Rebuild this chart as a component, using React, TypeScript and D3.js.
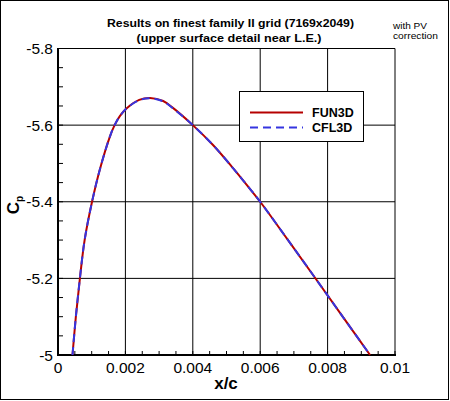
import React from "react";
import * as d3 from "d3";

const xc = [0.00043, 0.00053, 0.00065, 0.00079, 0.00101, 0.00125, 0.00154, 0.00168, 0.00184, 0.00204, 0.00241, 0.00273, 0.00312, 0.00341, 0.004, 0.0046, 0.0052, 0.0056, 0.006, 0.0068, 0.0076, 0.0084, 0.00926];
const fun3d = [-5.0, -5.1, -5.2, -5.3, -5.4, -5.487, -5.57, -5.6, -5.624, -5.644, -5.666, -5.671, -5.663, -5.645, -5.6, -5.548, -5.487, -5.444, -5.4, -5.303, -5.205, -5.106, -5.0];
const cfl3d = [-5.0, -5.1, -5.2, -5.3, -5.4, -5.487, -5.57, -5.6, -5.624, -5.644, -5.665, -5.67, -5.662, -5.644, -5.6, -5.548, -5.487, -5.444, -5.4, -5.303, -5.205, -5.106, -5.0];
const xTicks = [0, 0.002, 0.004, 0.006, 0.008, 0.01];
const xTickLabels = ["0", "0.002", "0.004", "0.006", "0.008", "0.01"];
const yTicks = [-5.8, -5.6, -5.4, -5.2, -5.0];
const yTickLabels = ["-5.8", "-5.6", "-5.4", "-5.2", "-5"];
const seriesNames = ["FUN3D", "CFL3D"];

const W = 450, H = 401;
const L = 58, R = 395, T = 48.5, B = 355;

export default function App() {
  const x = d3.scaleLinear().domain([0, 0.01]).range([L, R]);
  const y = d3.scaleLinear().domain([-5.8, -5.0]).range([T, B]);
  const line = d3.line<number>().x((_, i) => x(xc[i])).y((d) => y(d)).curve(d3.curveCatmullRom.alpha(0.5));
  const xMinor = d3.range(0, 0.01 + 1e-9, 0.0005);
  const yMinor = d3.range(-5.8, -5.0 + 1e-9, 0.05);
  const font = "Liberation Sans, Arial, sans-serif";
  return (
    <svg width={W} height={H} style={{ position: "absolute", left: 0, top: 0, background: "#fff" }} fontFamily={font}>
      <rect x={0.5} y={0.5} width={448} height={399} fill="#fff" stroke="#000" strokeWidth={1} />
      <text x={230.5} y={26.5} fontSize={11} fontWeight="bold" textAnchor="middle" textLength={247} lengthAdjust="spacingAndGlyphs">Results on finest family II grid (7169x2049)</text>
      <text x={229} y={42} fontSize={11} fontWeight="bold" textAnchor="middle" textLength={185} lengthAdjust="spacingAndGlyphs">(upper surface detail near L.E.)</text>
      <text x={393} y={29} fontSize={8.5} textLength={34} lengthAdjust="spacingAndGlyphs">with PV</text>
      <text x={393} y={38.5} fontSize={8.5} textLength={45} lengthAdjust="spacingAndGlyphs">correction</text>
      {/* grid */}
      {xTicks.slice(1, -1).map((t) => (
        <line key={"gx" + t} x1={x(t)} x2={x(t)} y1={T} y2={B} stroke="#000" strokeWidth={1} />
      ))}
      {yTicks.slice(1, -1).map((t) => (
        <line key={"gy" + t} x1={L} x2={R} y1={y(t)} y2={y(t)} stroke="#000" strokeWidth={1} />
      ))}
      {xMinor.map((t, i) => (
        <line key={"mx" + i} x1={x(t)} x2={x(t)} y1={B} y2={B - 4} stroke="#000" strokeWidth={1} />
      ))}
      {yMinor.map((t, i) => (
        <line key={"my" + i} x1={L} x2={L + 5} y1={y(t)} y2={y(t)} stroke="#000" strokeWidth={1} />
      ))}
      {/* frame */}
      <line x1={L} x2={R} y1={T} y2={T} stroke="#000" strokeWidth={1} />
      <line x1={R} x2={R} y1={T} y2={B} stroke="#000" strokeWidth={1} />
      <line x1={L} x2={R + 1} y1={B} y2={B} stroke="#000" strokeWidth={2} />
      <line x1={L} x2={L} y1={T - 0.5} y2={B + 1} stroke="#000" strokeWidth={2} />
      {/* tick labels */}
      {xTicks.map((t, i) => (
        <text key={"xl" + t} x={x(t)} y={373} fontSize={15.5} textAnchor="middle">{xTickLabels[i]}</text>
      ))}
      {yTicks.map((t, i) => (
        <text key={"yl" + t} x={53} y={y(t) + 5.5} fontSize={15.5} textAnchor="end">{yTickLabels[i]}</text>
      ))}
      <text x={226} y={389} fontSize={17} fontWeight="bold" textAnchor="middle">x/c</text>
      <text transform="translate(19,205) rotate(-90)" fontSize={17} fontWeight="bold" textAnchor="middle">
        C<tspan fontSize={10} dy={4}>p</tspan>
      </text>
      {/* series */}
      <path d={line(fun3d) || ""} fill="none" stroke="#b50000" strokeWidth={2} />
      <path d={line(cfl3d) || ""} fill="none" stroke="#3535e0" strokeWidth={2} strokeDasharray="8,5" />
      {/* legend */}
      <rect x={239.5} y={91.5} width={124} height={50} fill="#fff" stroke="#000" strokeWidth={1} />
      <line x1={250} x2={303} y1={112.5} y2={112.5} stroke="#b50000" strokeWidth={2} />
      <line x1={250} x2={303} y1={127.5} y2={127.5} stroke="#3535e0" strokeWidth={2} strokeDasharray="8,5" />
      <text x={312} y={117} fontSize={12.5} fontWeight="bold">{seriesNames[0]}</text>
      <text x={312} y={132} fontSize={12.5} fontWeight="bold">{seriesNames[1]}</text>
    </svg>
  );
}
